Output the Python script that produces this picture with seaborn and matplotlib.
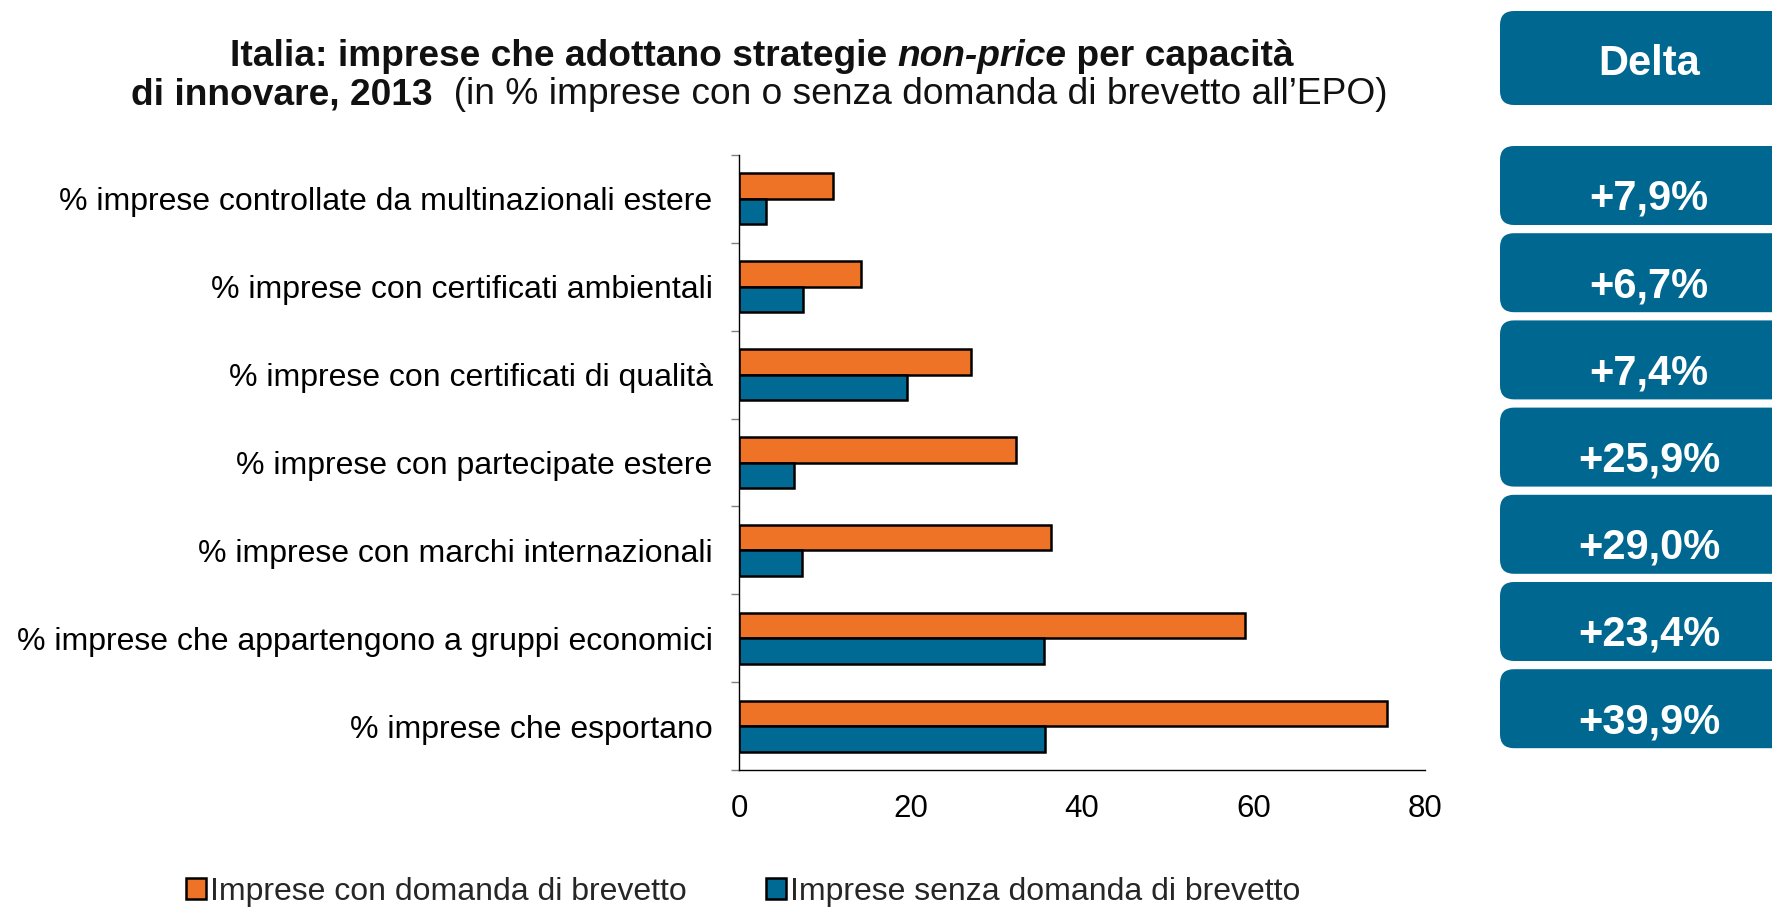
import numpy as np
import pandas as pd
import matplotlib
matplotlib.use("Agg")
import matplotlib.pyplot as plt
import seaborn as sns
from matplotlib.patches import FancyBboxPatch, Patch

# Data
categories = [
    "% imprese controllate da multinazionali estere",
    "% imprese con certificati ambientali",
    "% imprese con certificati di qualità",
    "% imprese con partecipate estere",
    "% imprese con marchi internazionali",
    "% imprese che appartengono a gruppi economici",
    "% imprese che esportano",
]
con_brevetto = [11.0, 14.2, 27.0, 32.3, 36.4, 59.0, 75.6]
senza_brevetto = [3.1, 7.5, 19.6, 6.4, 7.4, 35.6, 35.7]
delta = [7.9, 6.7, 7.4, 25.9, 29.0, 23.4, 39.9]
series = ["Imprese con domanda di brevetto", "Imprese senza domanda di brevetto"]
x_ticks = [0, 20, 40, 60, 80]

ORANGE = "#EE7326"
BLUE = "#006A94"
BOX = "#006890"

df = pd.DataFrame({
    "categoria": categories * 2,
    "valore": con_brevetto + senza_brevetto,
    "gruppo": [series[0]] * len(categories) + [series[1]] * len(categories),
})

sns.set_style("white")
plt.rcParams["font.family"] = ["Liberation Sans", "DejaVu Sans"]

W, H = 1772, 907
fig = plt.figure(figsize=(W / 100, H / 100), dpi=100)
ax = fig.add_axes([739 / W, 1 - 770 / H, (1425 - 739) / W, (770 - 155) / H])

sns.barplot(data=df, y="categoria", x="valore", hue="gruppo", hue_order=series,
            order=categories, palette=[ORANGE, BLUE], orient="h", width=0.58,
            saturation=1, edgecolor="black", linewidth=1.8, errorbar=None,
            legend=False, ax=ax)

ax.set_xlim(0, 80)
ax.set_ylim(len(categories) - 0.5, -0.5)
ax.set_xticks(x_ticks)
ax.set_xlabel("")
ax.set_ylabel("")
for side in ["top", "right"]:
    ax.spines[side].set_visible(False)
for side in ["left", "bottom"]:
    ax.spines[side].set_color("black")
    ax.spines[side].set_linewidth(1.0)

ax.tick_params(axis="x", length=6.5, width=1, color="#808080", labelsize=22.5, pad=11,
               labelcolor="black")
ax.tick_params(axis="y", which="major", length=0, labelsize=23, pad=19, labelcolor="black")
ax.set_yticks(np.arange(-0.5, len(categories), 1), minor=True)
ax.tick_params(axis="y", which="minor", length=6, width=1, color="#808080", left=True)

# legend
handles = [Patch(facecolor=c, edgecolor="black", linewidth=1.8, label=s)
           for c, s in zip([ORANGE, BLUE], series)]
fig.legend(handles=handles, loc="center", bbox_to_anchor=(743 / W, 1 - 892 / H),
           ncol=2, frameon=False, fontsize=23, handlelength=0.62, handleheight=0.62,
           handletextpad=0.12, columnspacing=2.5, borderaxespad=0, borderpad=0)

# overlay in pixel units for the title and the delta boxes
ov = fig.add_axes([0, 0, 1, 1], zorder=5)
ov.set_xlim(0, W)
ov.set_ylim(H, 0)
ov.axis("off")
ov.patch.set_alpha(0)

renderer = fig.canvas.get_renderer()


def text_width(s, **kw):
    t1 = ov.text(0, 0, s + "|", **kw)
    t2 = ov.text(0, 0, "|", **kw)
    w = t1.get_window_extent(renderer).width - t2.get_window_extent(renderer).width
    t1.remove()
    t2.remove()
    return w


def mixed_line(pieces, cx, cy, size):
    widths = [text_width(s, fontsize=size, fontweight=wt, fontstyle=st) for s, wt, st in pieces]
    x = cx - sum(widths) / 2
    for (s, wt, st), w in zip(pieces, widths):
        ov.text(x, cy, s, fontsize=size, fontweight=wt, fontstyle=st,
                ha="left", va="center", color="#111111")
        x += w


mixed_line([("Italia: imprese che adottano strategie ", "bold", "normal"),
            ("non-price", "bold", "italic"),
            (" per capacità", "bold", "normal")], 762, 57, 26.7)
mixed_line([("di innovare, 2013", "bold", "normal"),
            ("  (in % imprese con o senza domanda di brevetto all’EPO)", "normal", "normal")],
           759, 95, 26.7)


def box(y0, h):
    p = FancyBboxPatch((1500, y0), 320, h, boxstyle="round,pad=0,rounding_size=14",
                       facecolor=BOX, edgecolor="none")
    ov.add_patch(p)


box(11, 94)
ov.text(1649, 75, "Delta", fontsize=30, fontweight="bold", color="white",
        ha="center", va="baseline")

for i, d in enumerate(delta):
    top = 146 + i * 87.2
    box(top, 79)
    ov.text(1649, top + 39.5 + 24.5, "+" + f"{d:.1f}".replace(".", ",") + "%", fontsize=30,
            fontweight="bold", color="white", ha="center", va="baseline")

fig.savefig("out.png", dpi=100)
